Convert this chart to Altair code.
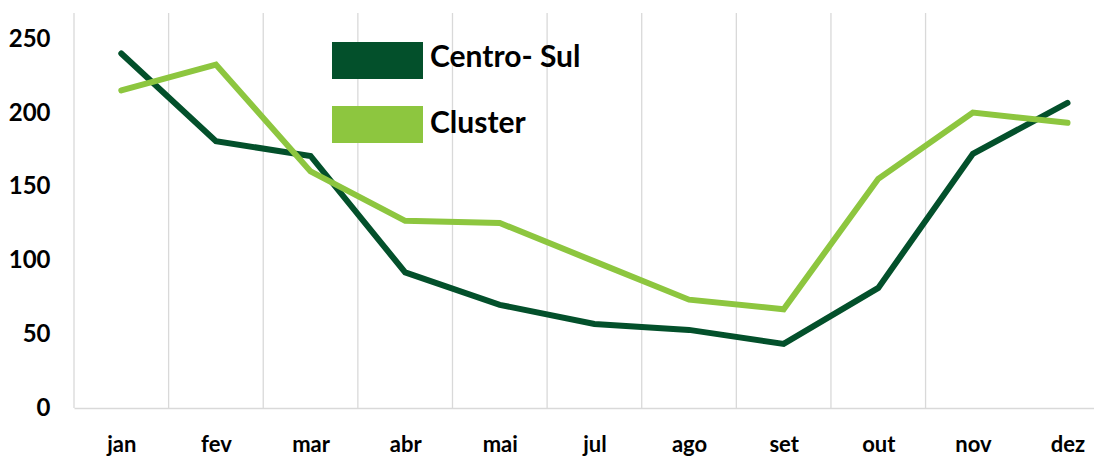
import json
import altair as alt
import pandas as pd

months = ["jan", "fev", "mar", "abr", "mai", "jul", "ago", "set", "out", "nov", "dez"]
centro_sul = [240.5, 181, 171, 92, 70, 57, 53, 43.5, 81.5, 172.5, 207]
cluster = [215.5, 233, 160.5, 127, 125.5, 99.5, 73.5, 67, 155.5, 200.5, 193.5]

series_names = ["Centro- Sul", "Cluster"]
series_colors = ["#03502B", "#8DC63F"]

idx = list(range(len(months)))
df_cs = pd.DataFrame({"i": idx, "mes": months, "v": centro_sul})
df_cl = pd.DataFrame({"i": idx, "mes": months, "v": cluster})
df_grid = pd.DataFrame({"i": [i - 0.5 for i in idx[:-1]]})

FONT = "Lato"
x_scale = alt.Scale(domain=[-0.5, 10.28], nice=False, zero=False)
y_scale = alt.Scale(domain=[0, 268], nice=False)

label_expr = json.dumps(months) + "[datum.value]"

x_axis = alt.Axis(
    values=idx,
    labelExpr=label_expr,
    grid=False,
    ticks=False,
    domain=True,
    domainColor="#d9d9d9",
    domainWidth=1.5,
    labelFont=FONT,
    labelFontWeight="bold",
    labelFontSize=22,
    labelColor="#000000",
    labelPadding=26,
)
y_axis = alt.Axis(
    values=[0, 50, 100, 150, 200, 250],
    grid=False,
    ticks=False,
    domain=False,
    labelFont=FONT,
    labelFontWeight="bold",
    labelFontSize=24,
    labelColor="#000000",
    labelPadding=24,
)

grid = alt.Chart(df_grid).mark_rule(color="#d9d9d9", strokeWidth=1.3).encode(
    x=alt.X("i:Q", scale=x_scale, title=None, axis=x_axis)
)


def line(df, color):
    return alt.Chart(df).mark_line(
        color=color, strokeWidth=6, strokeCap="round", strokeJoin="miter"
    ).encode(
        x=alt.X("i:Q", scale=x_scale, title=None, axis=x_axis),
        y=alt.Y("v:Q", scale=y_scale, title=None, axis=y_axis),
    )


leg_layers = []
leg_pos = [(29, 66, 53.5), (93, 130, 120)]
for name, color, (y0, y1, yt) in zip(series_names, series_colors, leg_pos):
    ldf = pd.DataFrame({"s": [name]})
    leg_layers.append(
        alt.Chart(ldf).mark_rect(color=color).encode(
            x=alt.value(258), x2=alt.value(349), y=alt.value(y0), y2=alt.value(y1)
        )
    )
    leg_layers.append(
        alt.Chart(ldf).mark_text(
            align="left", baseline="alphabetic", font=FONT, fontWeight="bold",
            fontSize=30, color="#000000"
        ).encode(x=alt.value(356), y=alt.value(yt), text="s:N")
    )

chart = alt.layer(
    grid,
    line(df_cs, series_colors[0]),
    line(df_cl, series_colors[1]),
    *leg_layers,
).properties(
    width=1020,
    height=395,
    autosize=alt.AutoSizeParams(type="none"),
    padding={"left": 66, "top": 5, "right": 0, "bottom": 49},
).configure_view(stroke=None)

chart.save("out.html", embed_options={"renderer": "svg", "actions": False})
